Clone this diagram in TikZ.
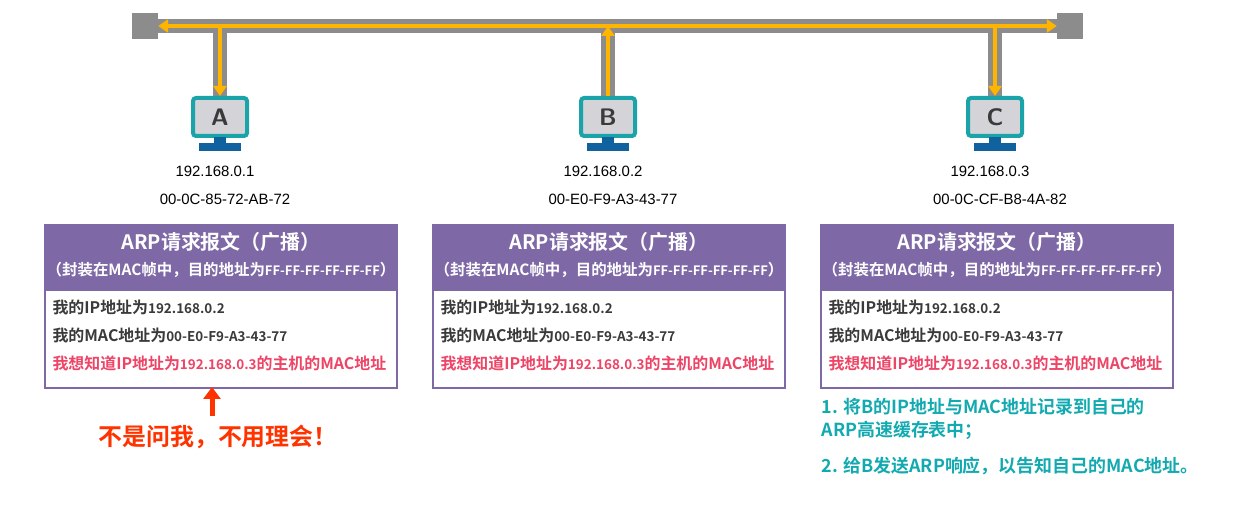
\documentclass[tikz,border=0pt]{standalone}
\usepackage{fontspec}
\setmainfont{Liberation Sans}
\newfontfamily\cjk{Noto Sans CJK SC}[BoldFont={* Bold}]
\usetikzlibrary{arrows.meta}
\definecolor{busg}{HTML}{8C8C8C}
\definecolor{orng}{HTML}{FFB400}
\definecolor{teal}{HTML}{1AA3A8}
\definecolor{scr}{HTML}{D4D4D8}
\definecolor{stand}{HTML}{10629E}
\definecolor{purp}{HTML}{7E69A6}
\definecolor{redt}{HTML}{EE4466}
\definecolor{arr}{HTML}{FF3300}
\definecolor{grn}{HTML}{12AAB0}
\definecolor{gtxt}{HTML}{3A3A3A}
\tikzset{
 term/.style={fill=busg,minimum size=26bp,inner sep=0},
 bus/.style={line width=14bp,draw=busg},
 sig/.style={line width=4.5bp,draw=orng,-{Triangle[length=10bp,width=13bp]}},
 hdr/.style={fill=purp,draw=purp,line width=2bp,minimum width=352bp,minimum height=63bp,inner sep=0},
 bdy/.style={fill=white,draw=purp,line width=2bp,minimum width=352bp,minimum height=98bp,inner sep=0},
}
\begin{document}
\begin{tikzpicture}[x=1bp,y=-1bp,font=\cjk\bfseries]
\useasboundingbox (0,0) rectangle (1234,527);
\node[term] (tl) at (145,26) {};
\node[term] (tr) at (1070,26) {};
\draw[bus] (tl.center) -- (tr.center);
\foreach \n/\x in {A/220,B/608,C/995}{
  \coordinate (j\n) at (\x,26);
  \draw[bus] (j\n) -- (\x,97);
  \node[draw=teal,fill=scr,line width=4bp,rounded corners=3bp,minimum width=54bp,minimum height=38bp,inner sep=0,font=\sffamily\bfseries\fontsize{24}{24}\selectfont,text=gtxt] (m\n) at (\x,117) {\n};
  \fill[stand] (\x-6,137) rectangle (\x+6,143);
  \fill[stand] (\x-21,143) rectangle (\x+21,151);
}
\draw[sig] (jA) -- (tl.east);
\draw[sig] (jA) -- (tr.west);
\draw[sig] (jA) -- (mA.north);
\draw[sig] (jC) -- (mC.north);
\draw[sig] (mB.north) -- (jB);
\foreach \n/\x/\ip/\mac in {A/220/192.168.0.1/00-0C-85-72-AB-72,B/608/192.168.0.2/00-E0-F9-A3-43-77,C/995/192.168.0.3/00-0C-CF-B8-4A-82}{
  \node[font=\rmfamily\fontsize{15}{17}\selectfont] (ip\n) at (\x-5,171) {\ip};
  \node[font=\rmfamily\fontsize{15}{17}\selectfont] (mac\n) at (\x+5,199) {\mac};
}
\foreach \n/\x in {A/221,B/609,C/997}{
  \node[hdr,anchor=north] (h\n) at (\x,224) {};
  \node[bdy,anchor=north] (b\n) at (h\n.south) {};
  \node[text=white,font=\cjk\bfseries\fontsize{20}{22}\selectfont] at (\x,242) {ARP请求报文（广播）};
  \node[text=white,font=\cjk\bfseries\fontsize{15.5}{17}\selectfont] at (\x,270) {（封装在MAC帧中，目的地址为{\fontsize{13}{14}\selectfont FF-FF-FF-FF-FF-FF}）};
  \node[anchor=west,text=gtxt,font=\cjk\bfseries\fontsize{16}{18}\selectfont] at (\x-172,307) {我的IP地址为{\fontsize{13.5}{14}\selectfont 192.168.0.2}};
  \node[anchor=west,text=gtxt,font=\cjk\bfseries\fontsize{16}{18}\selectfont] at (\x-172,335) {我的MAC地址为{\fontsize{13.5}{14}\selectfont 00-E0-F9-A3-43-77}};
  \node[anchor=west,text=redt,font=\cjk\bfseries\fontsize{16}{18}\selectfont] at (\x-172,363) {我想知道IP地址为{\fontsize{13.5}{14}\selectfont 192.168.0.3}的主机的MAC地址};
}
\coordinate (rs) at (212,416);
\coordinate (re) at (212,387);
\draw[line width=5bp,draw=arr,-{Triangle[length=12bp,width=17bp]}] (rs) -- (re);
\node[text=arr,font=\cjk\bfseries\fontsize{24}{26}\selectfont] (no) at (218,437) {不是问我，不用理会！};
\node[anchor=west,align=left,text=grn,font=\cjk\bfseries\fontsize{18}{23}\selectfont] (g1) at (818,419) {1. 将B的IP地址与MAC地址记录到自己的\\ARP高速缓存表中；};
\node[anchor=west,text=grn,font=\cjk\bfseries\fontsize{18}{20}\selectfont] (g2) at (818,466) {2. 给B发送ARP响应，以告知自己的MAC地址。};
\end{tikzpicture}
\end{document}
